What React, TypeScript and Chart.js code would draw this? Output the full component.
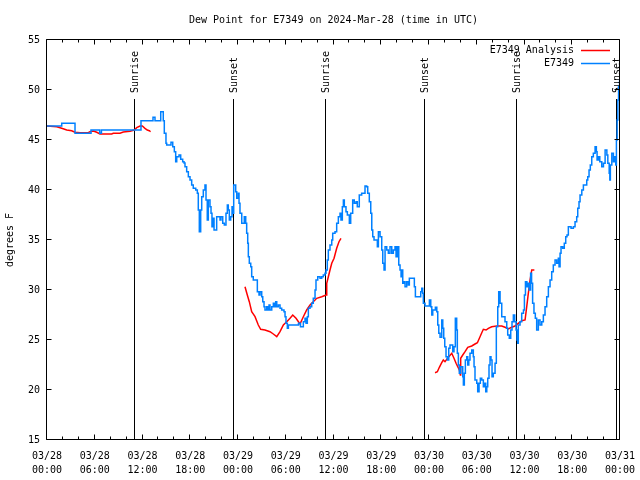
import React, { useEffect, useRef } from 'react';
import { Chart, registerables } from 'chart.js';

Chart.register(...registerables);

const FONT = "'DejaVu Sans Mono', monospace";

const titleText = 'Dew Point for E7349 on 2024-Mar-28 (time in UTC)';
const yAxisTitle = 'degrees F';

// x tick labels (every 6 hours from 03/28 00:00 UTC)
const tickDates = ['03/28', '03/28', '03/28', '03/28', '03/29', '03/29', '03/29', '03/29', '03/30', '03/30', '03/30', '03/30', '03/31'];
const tickTimes = ['00:00', '06:00', '12:00', '18:00', '00:00', '06:00', '12:00', '18:00', '00:00', '06:00', '12:00', '18:00', '00:00'];

// sunrise / sunset markers (hours since 03/28 00:00 UTC)
const sunHours = [11.0, 23.45, 35.1, 47.55, 59.12, 71.64];
const sunLabels = ['Sunrise', 'Sunset', 'Sunrise', 'Sunset', 'Sunrise', 'Sunset'];

const seriesLabels = ['E7349 Analysis', 'E7349'];

// Analysis (red) — hours since 03/28 00:00 UTC, null = gap
const analysisHours = [
  0.0, 1.22, 1.85, 2.48, 3.10, 3.52, 4.15, 5.19, 5.40, 5.82, 6.25, 6.66, 8.13, 8.33, 9.17, 9.59, 10.43, 10.97, 11.27, 11.69, 11.98, 12.31, 12.60, 12.85, 12.94,
  13.0,
  24.88, 25.17, 25.42, 25.72, 26.14, 26.55, 26.85, 27.39, 28.02, 28.44, 28.87, 29.28, 29.70, 30.12, 30.54, 30.88, 31.29, 31.79, 32.21, 32.63, 33.05, 33.46, 33.89, 34.52, 35.06, 35.15, 35.56, 35.78, 36.07, 36.40, 36.69, 36.94,
  37.0,
  48.76, 49.05, 49.30, 49.60, 49.80, 50.01, 50.43, 50.86, 51.14, 51.40, 51.61, 51.81, 51.94, 51.98, 52.24, 52.53, 52.87, 53.37, 53.78, 54.08, 54.33, 54.63, 54.83, 55.17, 55.46, 55.88, 56.51, 57.14, 57.55, 57.97, 58.39, 58.81, 59.22, 59.65, 60.07, 60.28, 60.48, 60.70, 60.91, 61.24,
];
const analysisValues = [
  46.4, 46.33, 46.17, 46.0, 45.93, 45.77, 45.73, 45.73, 45.83, 45.9, 45.77, 45.6, 45.6, 45.67, 45.67, 45.8, 45.87, 46.0, 46.23, 46.4, 46.4, 46.17, 46.0, 45.93, 45.9,
  null,
  30.33, 29.5, 28.83, 27.83, 27.33, 26.5, 26.07, 26.0, 25.83, 25.6, 25.33, 25.83, 26.5, 26.83, 27.17, 27.5, 27.17, 26.6, 27.33, 28.0, 28.5, 28.83, 29.17, 29.33, 29.5, 30.67, 32.0, 32.67, 33.17, 34.17, 34.83, 35.17,
  null,
  21.73, 21.83, 22.27, 22.73, 23.0, 22.83, 23.27, 23.67, 23.17, 22.67, 22.33, 22.0, 21.5, 23.17, 23.5, 23.83, 24.27, 24.4, 24.6, 24.73, 25.17, 25.73, 26.07, 26.0, 26.17, 26.33, 26.4, 26.4, 26.27, 26.1, 26.27, 26.4, 26.67, 26.93, 27.0, 28.33, 29.67, 31.0, 32.0, 32.0,
];

// Observations (blue) — hours since 03/28 00:00 UTC
const obsHours = [
  0, 1.85, 3.52, 5.53, 6.62, 6.84, 11.81, 13.32, 13.57, 14.29, 14.61, 14.74, 14.95, 15.04, 15.58, 15.80, 16.0, 16.17, 16.30, 16.59,
  16.80, 17.05, 17.22, 17.34, 17.55, 17.76, 17.97, 18.18, 18.38, 18.69, 18.89, 19.01, 19.14, 19.31, 19.44, 19.64, 19.85, 19.98, 20.14, 20.27,
  20.48, 20.61, 20.73, 20.86, 20.99, 21.32, 21.74, 21.86, 22.08, 22.28, 22.49, 22.66, 22.78, 22.91, 23.08, 23.25, 23.37, 23.46, 23.71, 23.84,
  24.04, 24.13, 24.25, 24.47, 24.79, 24.97, 25.09, 25.22, 25.30, 25.42, 25.60, 25.72, 25.92, 26.43, 26.64, 26.77, 26.98, 27.11, 27.27, 27.39,
  27.61, 27.73, 27.90, 28.02, 28.24, 28.44, 28.57, 28.74, 28.87, 29.07, 29.28, 29.49, 29.78, 29.91, 30.03, 30.20, 30.33, 31.60, 31.85, 32.01,
  32.21, 32.42, 32.55, 32.71, 32.84, 33.05, 33.26, 33.46, 33.68, 33.80, 34.02, 34.31, 34.52, 34.72, 34.93, 35.06, 35.22, 35.35, 35.56, 35.78,
  35.90, 36.19, 36.40, 36.61, 36.82, 36.94, 37.11, 37.24, 37.36, 37.57, 37.74, 37.99, 38.16, 38.41, 38.61, 38.83, 38.99, 39.24, 39.54, 39.96,
  40.17, 40.30, 40.50, 40.68, 40.81, 40.93, 41.09, 41.51, 41.64, 41.85, 42.06, 42.19, 42.35, 42.48, 42.69, 42.89, 43.10, 43.32, 43.52, 43.73,
  43.86, 44.02, 44.20, 44.36, 44.49, 44.57, 44.70, 44.86, 44.99, 45.20, 45.40, 45.53, 46.16, 46.29, 46.96, 47.09, 47.21, 47.29, 47.50, 48.05,
  48.22, 48.35, 48.47, 48.80, 48.98, 49.10, 49.23, 49.39, 49.60, 49.73, 49.85, 49.98, 50.14, 50.30, 50.48, 50.64, 50.98, 51.14, 51.31, 51.48,
  51.56, 51.69, 51.81, 51.99, 52.24, 52.32, 52.44, 52.57, 52.74, 52.87, 53.00, 53.15, 53.37, 53.57, 53.66, 53.78, 54.00, 54.12, 54.29, 54.45,
  54.63, 54.83, 54.96, 55.13, 55.26, 55.38, 55.54, 55.67, 55.79, 55.92, 56.08, 56.30, 56.46, 56.64, 56.76, 56.93, 57.14, 57.55, 57.77, 57.89,
  58.09, 58.27, 58.43, 58.60, 58.77, 58.94, 59.06, 59.15, 59.22, 59.44, 59.65, 59.87, 59.99, 60.12, 60.30, 60.47, 60.59, 60.77, 60.89, 61.02,
  61.19, 61.36, 61.53, 61.74, 61.95, 62.17, 62.37, 62.58, 62.79, 63.00, 63.21, 63.42, 63.62, 63.84, 64.05, 64.25, 64.34, 64.47, 64.59, 64.80,
  65.00, 65.18, 65.34, 65.51, 65.85, 66.14, 66.35, 66.56, 66.69, 66.85, 66.98, 67.20, 67.40, 67.61, 67.82, 67.95, 68.11, 68.27, 68.45, 68.65,
  68.87, 69.03, 69.12, 69.28, 69.46, 69.71, 69.92, 70.13, 70.35, 70.47, 70.64, 70.72, 70.79, 70.97, 71.17, 71.30, 71.47, 71.55, 71.64, 71.73,
  71.82, 71.95, 72.0,
];
const obsValues = [
  46.4, 46.67, 45.67, 46.0, 45.67, 46.0, 46.93, 47.27, 46.93, 47.83, 46.93, 45.67, 44.67, 44.5, 44.77, 44.33, 43.83, 42.83, 43.33, 43.5,
  43.07, 42.83, 42.7, 42.33, 41.83, 41.33, 41.0, 40.5, 40.17, 40.0, 39.67, 38.0, 35.83, 38.0, 39.33, 40.0, 40.5, 39.0, 37.0, 39.0,
  38.33, 37.67, 36.33, 37.17, 36.0, 37.33, 37.0, 37.33, 36.67, 36.5, 37.67, 38.5, 38.0, 37.0, 37.33, 38.33, 37.67, 40.5, 39.83, 39.17,
  39.67, 38.67, 37.67, 36.67, 37.33, 36.67, 35.67, 34.67, 33.33, 32.67, 32.33, 31.33, 31.0, 29.83, 29.5, 29.83, 29.33, 28.83, 28.33, 28.0,
  28.33, 28.0, 28.5, 28.0, 28.33, 28.67, 28.33, 28.83, 28.33, 28.5, 28.17, 28.0, 27.83, 27.33, 26.67, 26.17, 26.5, 26.67, 26.33, 26.33,
  26.83, 27.17, 26.67, 27.33, 28.17, 28.33, 28.67, 29.17, 30.0, 31.0, 31.33, 31.17, 31.33, 31.5, 31.67, 32.0, 33.0, 34.0, 34.5, 35.0,
  35.67, 35.83, 36.67, 37.33, 37.67, 37.0, 38.33, 39.0, 38.33, 37.83, 37.5, 36.67, 37.67, 39.0, 38.67, 38.83, 38.33, 39.5, 39.67, 40.4,
  40.33, 39.67, 38.83, 37.67, 36.0, 35.33, 35.0, 34.33, 35.83, 35.33, 34.0, 32.67, 32.0, 34.33, 34.0, 33.67, 34.33, 33.67, 34.0, 34.33,
  33.33, 34.33, 32.5, 32.0, 31.33, 32.0, 30.67, 30.83, 30.33, 30.83, 30.5, 31.17, 30.33, 29.33, 29.83, 30.17, 29.67, 28.67, 28.4, 29.0,
  28.33, 27.5, 28.0, 28.27, 27.83, 26.5, 25.67, 25.27, 27.0, 26.17, 25.17, 24.33, 23.33, 23.0, 24.17, 24.5, 23.83, 24.33, 27.17, 26.0,
  23.67, 22.5, 21.67, 22.33, 21.33, 20.5, 21.67, 23.0, 23.33, 22.5, 23.0, 23.67, 24.0, 23.33, 22.33, 21.0, 20.67, 19.83, 20.67, 21.17,
  21.0, 20.33, 20.67, 19.83, 20.33, 21.17, 22.5, 23.33, 23.0, 21.33, 21.67, 22.67, 26.33, 28.33, 29.83, 28.67, 27.33, 26.83, 26.17, 25.5,
  25.17, 26.0, 26.83, 27.5, 26.83, 26.0, 25.0, 24.67, 26.5, 26.83, 27.67, 28.0, 29.5, 30.83, 30.33, 30.67, 30.0, 31.67, 30.67, 28.67,
  27.67, 27.17, 26.0, 27.0, 26.5, 26.83, 27.5, 28.33, 29.33, 30.33, 31.0, 31.83, 32.5, 33.0, 32.67, 33.17, 32.33, 33.67, 34.33, 34.17,
  34.67, 35.33, 35.5, 36.33, 36.17, 36.33, 36.83, 37.33, 38.17, 38.83, 39.5, 40.0, 40.5, 40.5, 41.0, 41.33, 42.0, 42.5, 43.33, 43.67,
  44.33, 43.83, 43.0, 43.33, 42.83, 42.33, 42.67, 44.0, 43.5, 42.67, 41.67, 41.0, 42.5, 43.67, 42.83, 43.33, 42.5, 45.0, 47.0, 49.0,
  50.33, 51.0, 48.67,
];

const RED = '#ff0000';
const BLUE = '#0080ff';

const framePlugin = {
  id: 'frameTicks',
  afterDatasetsDraw(chart: any) {
    const { ctx, chartArea: a, scales } = chart;
    const xs = scales.x;
    const ys = scales.y;
    ctx.save();
    ctx.strokeStyle = '#000';
    ctx.lineWidth = 1;
    const L = Math.round(a.left) - 0.5;
    const R = Math.round(a.right) - 0.5;
    const T = Math.round(a.top) - 0.5;
    const B = Math.round(a.bottom) - 0.5;
    ctx.beginPath();
    ctx.rect(L, T, R - L, B - T);
    ctx.stroke();
    ctx.beginPath();
    for (let h = xs.min; h <= xs.max; h += 2) {
      const px = Math.round(xs.getPixelForValue(h)) - 0.5;
      const len = h % 6 === 0 ? 5 : 3;
      ctx.moveTo(px, B);
      ctx.lineTo(px, B - len);
      ctx.moveTo(px, T);
      ctx.lineTo(px, T + len);
    }
    for (let v = ys.min; v <= ys.max; v += 5) {
      const py = Math.round(ys.getPixelForValue(v)) - 0.5;
      ctx.moveTo(L, py);
      ctx.lineTo(L + 5, py);
      ctx.moveTo(R, py);
      ctx.lineTo(R - 5, py);
    }
    ctx.stroke();
    ctx.restore();
  },
};

const sunPlugin = {
  id: 'sunMarks',
  beforeDatasetsDraw(chart: any) {
    const { ctx, chartArea: a, scales } = chart;
    const xs = scales.x;
    ctx.save();
    ctx.strokeStyle = '#000';
    ctx.fillStyle = '#000';
    ctx.lineWidth = 1;
    ctx.font = `10px ${FONT}`;
    sunHours.forEach((h, i) => {
      const px = Math.round(xs.getPixelForValue(h)) - 0.5;
      ctx.beginPath();
      ctx.moveTo(px, 99);
      ctx.lineTo(px, a.bottom);
      ctx.stroke();
      ctx.save();
      ctx.translate(px + 0.5, 93);
      ctx.rotate(-Math.PI / 2);
      ctx.textAlign = 'left';
      ctx.textBaseline = 'middle';
      ctx.fillText(sunLabels[i], 0, 0);
      ctx.restore();
    });
    ctx.restore();
  },
};

const legendPlugin = {
  id: 'gnuLegend',
  afterDraw(chart: any) {
    const { ctx } = chart;
    ctx.save();
    ctx.font = `10px ${FONT}`;
    ctx.textAlign = 'right';
    ctx.textBaseline = 'middle';
    chart.data.datasets.forEach((ds: any, i: number) => {
      const y = 50 + i * 13;
      ctx.fillStyle = '#000';
      ctx.fillText(ds.label, 574, y);
      ctx.strokeStyle = ds.borderColor;
      ctx.lineWidth = 1.5;
      ctx.beginPath();
      ctx.moveTo(581, y + 0.5);
      ctx.lineTo(610, y + 0.5);
      ctx.stroke();
    });
    ctx.restore();
  },
};

export default function App() {
  const ref = useRef<HTMLCanvasElement>(null);
  useEffect(() => {
    const canvas = ref.current;
    if (!canvas) return;
    const analysisPoints = analysisHours.map((h, i) => ({ x: h, y: analysisValues[i] }));
    const obsPoints = obsHours.map((h, i) => ({ x: h, y: obsValues[i] }));
    const chart = new Chart(canvas, {
      type: 'line',
      data: {
        datasets: [
          {
            label: seriesLabels[0],
            data: analysisPoints as any,
            borderColor: RED,
            backgroundColor: RED,
            borderWidth: 1.5,
            pointRadius: 0,
            spanGaps: false,
            tension: 0,
            order: 1,
          },
          {
            label: seriesLabels[1],
            data: obsPoints as any,
            borderColor: BLUE,
            backgroundColor: BLUE,
            borderWidth: 1.5,
            pointRadius: 0,
            stepped: true,
            order: 0,
          },
        ],
      },
      options: {
        animation: false,
        responsive: false,
        devicePixelRatio: 1,
        events: [],
        layout: { padding: { left: 0, right: 20, top: 0, bottom: 0 } },
        plugins: {
          legend: { display: false },
          tooltip: { enabled: false },
          title: {
            display: true,
            fullSize: false,
            text: titleText,
            color: '#000',
            font: { family: FONT, size: 10, weight: 'normal', lineHeight: 1.2 },
            padding: { top: 14, bottom: 14 },
          },
        },
        scales: {
          x: {
            type: 'linear',
            min: 0,
            max: 72,
            grid: { display: false, drawTicks: false },
            border: { display: false },
            ticks: {
              stepSize: 6,
              autoSkip: false,
              maxRotation: 0,
              minRotation: 0,
              padding: 9,
              color: '#000',
              font: { family: FONT, size: 10, lineHeight: 1.4 },
              callback: (v: any) => {
                const i = Math.round(Number(v) / 6);
                return [tickDates[i], tickTimes[i]];
              },
            },
            afterFit: (s: any) => {
              s.height = 40;
              s.paddingLeft = 0;
              s.paddingRight = 0;
            },
          },
          y: {
            min: 15,
            max: 55,
            grid: { display: false, drawTicks: false },
            border: { display: false },
            ticks: {
              stepSize: 5,
              padding: 7,
              color: '#000',
              font: { family: FONT, size: 10 },
            },
            title: {
              display: true,
              text: yAxisTitle,
              color: '#000',
              font: { family: FONT, size: 10, lineHeight: 1.2 },
              padding: { top: 4, bottom: 0 },
            },
            afterFit: (s: any) => {
              s.width = 47;
              s.paddingTop = 0;
              s.paddingBottom = 0;
            },
          },
        },
      } as any,
      plugins: [sunPlugin, framePlugin, legendPlugin],
    });
    return () => chart.destroy();
  }, []);
  return (
    <div style={{ position: 'absolute', left: 0, top: 0, width: 640, height: 480, background: '#fff' }}>
      <canvas ref={ref} width={640} height={480} style={{ display: 'block', width: 640, height: 480 }} />
    </div>
  );
}
